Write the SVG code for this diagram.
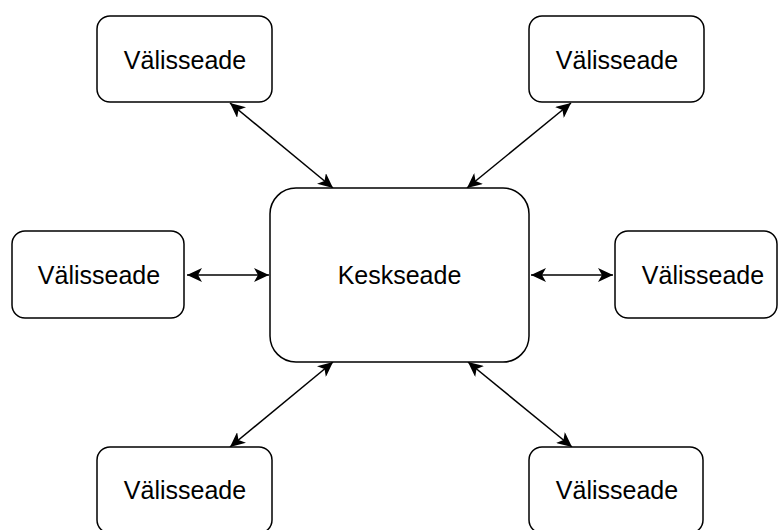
<svg xmlns="http://www.w3.org/2000/svg" width="779" height="530" viewBox="0 0 779 530">
  <style>
    .box { fill: #ffffff; stroke: #000000; stroke-width: 1.5; }
    .lbl { font-family: "Liberation Sans", Arial, sans-serif; font-size: 25px; fill: #000000; text-anchor: middle; }
    .edge { stroke: #000000; stroke-width: 1.5; fill: none; marker-start: url(#arr); marker-end: url(#arr); }
  </style>
  <defs>
    <marker id="arr" viewBox="0 0 15 14" markerUnits="userSpaceOnUse" markerWidth="15" markerHeight="14" refX="15" refY="7" orient="auto-start-reverse">
      <path d="M15,7 L0,0 L4,7 L0,14 Z" fill="#000000"/>
    </marker>
  </defs>
  <rect width="779" height="530" fill="#ffffff"/>
  <g id="connectors">
    <line class="edge" x1="187" y1="275" x2="269" y2="275"/>
    <line class="edge" x1="531" y1="275" x2="613" y2="275"/>
    <line class="edge" x1="230" y1="103" x2="333" y2="188"/>
    <line class="edge" x1="571" y1="103" x2="467" y2="188"/>
    <line class="edge" x1="333" y1="362" x2="230" y2="447"/>
    <line class="edge" x1="468" y1="362" x2="572" y2="447"/>
  </g>
  <g id="center">
    <rect class="box" x="270" y="188" width="259" height="174" rx="26" ry="26"/>
    <text class="lbl" x="399.5" y="283.5">Keskseade</text>
  </g>
  <g id="top-left">
    <rect class="box" x="97" y="16" width="175" height="86" rx="13" ry="13"/>
    <text class="lbl" x="185" y="68.5">Välisseade</text>
  </g>
  <g id="top-right">
    <rect class="box" x="529" y="16" width="175" height="86" rx="13" ry="13"/>
    <text class="lbl" x="617" y="68.5">Välisseade</text>
  </g>
  <g id="left">
    <rect class="box" x="12" y="231" width="172" height="87" rx="13" ry="13"/>
    <text class="lbl" x="99" y="283.5">Välisseade</text>
  </g>
  <g id="right">
    <rect class="box" x="615" y="231" width="162" height="87" rx="13" ry="13"/>
    <text class="lbl" x="703" y="283.5">Välisseade</text>
  </g>
  <g id="bottom-left">
    <rect class="box" x="97" y="447" width="175" height="86" rx="13" ry="13"/>
    <text class="lbl" x="185" y="499">Välisseade</text>
  </g>
  <g id="bottom-right">
    <rect class="box" x="529" y="447" width="174" height="86" rx="13" ry="13"/>
    <text class="lbl" x="617" y="499">Välisseade</text>
  </g>
</svg>
